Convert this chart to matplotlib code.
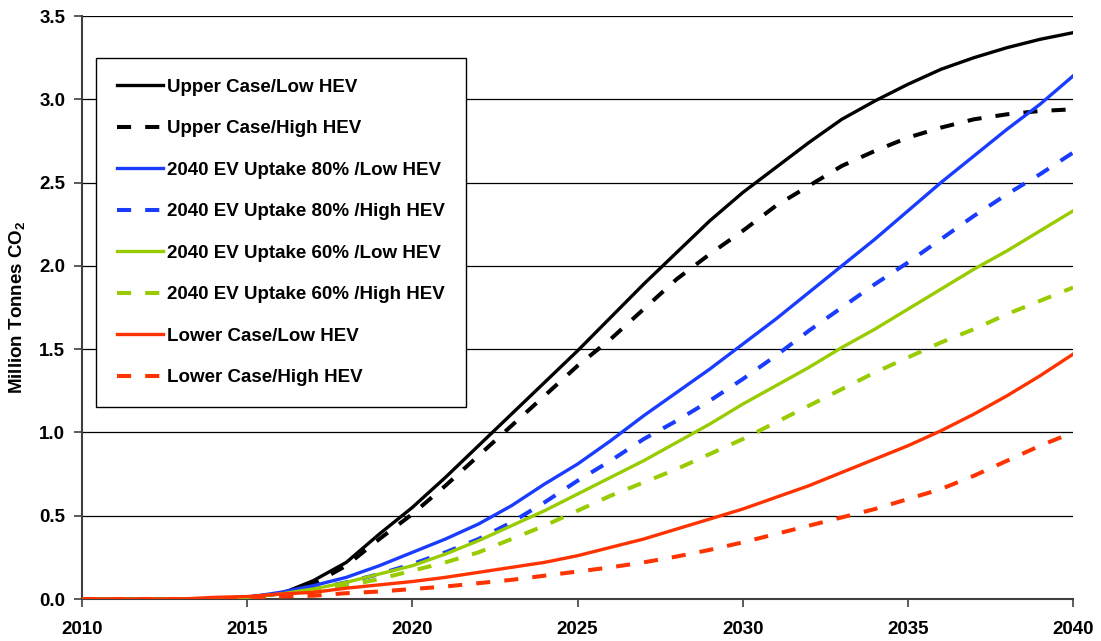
import matplotlib
matplotlib.use("Agg")
import matplotlib.pyplot as plt
from matplotlib.ticker import FormatStrFormatter

# ===============================
# DATA (million tonnes CO2 saved, yearly)
# ===============================

years = list(range(2010, 2041))

upper_low = [0, 0, 0, 0, 0, 0.01, 0.03, 0.11, 0.22, 0.39, 0.55, 0.73, 0.92, 1.11, 1.30,
             1.49, 1.69, 1.89, 2.08, 2.27, 2.44, 2.59, 2.74, 2.88, 2.99, 3.09, 3.18,
             3.25, 3.31, 3.36, 3.40]
upper_high = [0, 0, 0, 0, 0, 0, 0.02, 0.09, 0.20, 0.36, 0.51, 0.68, 0.86, 1.04, 1.22,
              1.40, 1.56, 1.74, 1.92, 2.07, 2.21, 2.36, 2.48, 2.60, 2.69, 2.77, 2.83,
              2.88, 2.91, 2.93, 2.94]
ev80_low = [0, 0, 0, 0, 0, 0.01, 0.04, 0.08, 0.13, 0.2, 0.28, 0.36, 0.45, 0.56, 0.69,
            0.81, 0.95, 1.1, 1.24, 1.38, 1.53, 1.68, 1.84, 2.0, 2.16, 2.33, 2.5,
            2.66, 2.82, 2.97, 3.14]
ev80_high = [0, 0, 0, 0, 0, 0.01, 0.03, 0.06, 0.1, 0.15, 0.21, 0.28, 0.36, 0.46, 0.58,
             0.71, 0.83, 0.96, 1.07, 1.19, 1.32, 1.46, 1.61, 1.75, 1.89, 2.02, 2.16,
             2.30, 2.43, 2.55, 2.68]
ev60_low = [0, 0, 0, 0, 0, 0.01, 0.03, 0.06, 0.1, 0.15, 0.2, 0.27, 0.35, 0.44, 0.53,
            0.63, 0.73, 0.83, 0.94, 1.05, 1.17, 1.28, 1.39, 1.51, 1.62, 1.74, 1.86,
            1.98, 2.09, 2.21, 2.33]
ev60_high = [0, 0, 0, 0, 0, 0.01, 0.02, 0.05, 0.08, 0.12, 0.17, 0.22, 0.28, 0.36, 0.44,
             0.53, 0.62, 0.70, 0.78, 0.87, 0.96, 1.06, 1.16, 1.26, 1.36, 1.45, 1.54,
             1.62, 1.71, 1.79, 1.87]
lower_low = [0, 0, 0, 0, 0.01, 0.015, 0.03, 0.04, 0.065, 0.085, 0.105, 0.13, 0.16, 0.19,
             0.22, 0.26, 0.31, 0.36, 0.42, 0.48, 0.54, 0.61, 0.68, 0.76, 0.84, 0.92,
             1.01, 1.11, 1.22, 1.34, 1.47]
lower_high = [0, 0, 0, 0, 0, 0.01, 0.015, 0.02, 0.035, 0.045, 0.06, 0.075, 0.095, 0.115,
              0.14, 0.165, 0.19, 0.22, 0.255, 0.295, 0.34, 0.39, 0.44, 0.49, 0.54, 0.60,
              0.66, 0.74, 0.83, 0.92, 1.0]

labels = [
    "Upper Case/Low HEV",
    "Upper Case/High HEV",
    "2040 EV Uptake 80% /Low HEV",
    "2040 EV Uptake 80% /High HEV",
    "2040 EV Uptake 60% /Low HEV",
    "2040 EV Uptake 60% /High HEV",
    "Lower Case/Low HEV",
    "Lower Case/High HEV",
]
series = [upper_low, upper_high, ev80_low, ev80_high,
          ev60_low, ev60_high, lower_low, lower_high]
colors = ["#000000", "#000000", "#1a3cff", "#1a3cff",
          "#99cc00", "#99cc00", "#ff3300", "#ff3300"]

# ===============================
# PLOT
# ===============================

plt.rcParams["font.family"] = ["Liberation Sans", "DejaVu Sans"]
plt.rcParams["font.weight"] = "bold"

fig = plt.figure(figsize=(11.01, 6.41), dpi=100)
ax = fig.add_axes([0.0745, 0.0655, 0.9001, 0.9095])

for i, (vals, lab, col) in enumerate(zip(series, labels, colors)):
    if i % 2 == 0:
        ax.plot(years, vals, color=col, lw=2.4, label=lab, zorder=3)
    else:
        ax.plot(years, vals, color=col, lw=2.9, label=lab, zorder=3,
                linestyle=(0, (3.5, 3.5)), dash_capstyle="butt")

ax.set_xlim(2010, 2040)
ax.set_ylim(0, 3.5)
ax.set_xticks(range(2010, 2041, 5))
ax.set_yticks([i * 0.5 for i in range(8)])
ax.yaxis.set_major_formatter(FormatStrFormatter("%.1f"))
ax.tick_params(axis="both", labelsize=13.5, length=6, width=1.2, color="#404040")
ax.tick_params(axis="x", pad=10)
ax.tick_params(axis="y", pad=6)
for t in ax.get_xticklabels() + ax.get_yticklabels():
    t.set_fontweight("bold")

ax.grid(axis="y", color="#000000", lw=0.9, zorder=1)
ax.spines["top"].set_visible(False)
ax.spines["right"].set_visible(False)
ax.spines["left"].set_color("#404040")
ax.spines["left"].set_linewidth(1.5)
ax.spines["bottom"].set_color("#404040")
ax.spines["bottom"].set_linewidth(1.5)

ax.set_ylabel(r"Million Tonnes CO$_\mathregular{2}$", fontsize=13.5,
              fontweight="bold", labelpad=8)

leg = ax.legend(loc="upper left", bbox_to_anchor=(0.014, 0.928), fontsize=13.5,
                frameon=True, fancybox=False, edgecolor="#000000", framealpha=1,
                labelspacing=1.3, handlelength=2.5, handletextpad=0.2,
                borderpad=1.1, borderaxespad=0)
leg.get_frame().set_linewidth(1.0)
for t in leg.get_texts():
    t.set_fontweight("bold")

fig.savefig("out.png", dpi=100)
